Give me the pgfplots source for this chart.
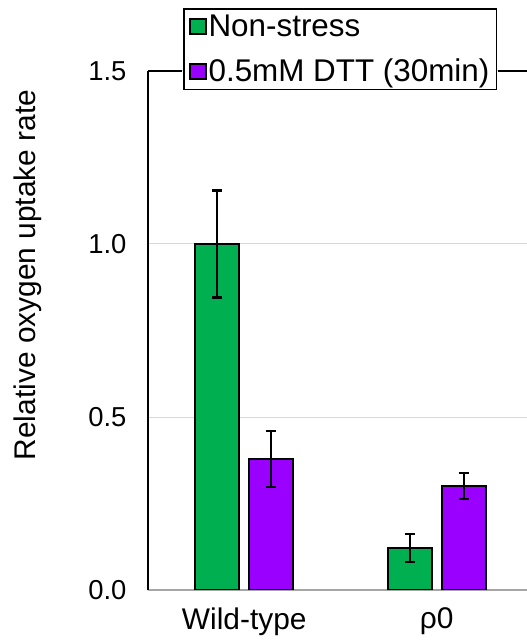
\documentclass[border=0pt]{standalone}
\usepackage{pgfplots}
\pgfplotsset{compat=1.18}
\usepackage{fontspec}
\setmainfont{Liberation Sans}
\definecolor{cgreen}{RGB}{0,176,80}
\definecolor{cpurple}{RGB}{153,0,255}
\begin{document}
\begin{tikzpicture}[x=1bp,y=1bp]
\useasboundingbox (-148bp,-52bp) rectangle (379bp,590bp);
\clip (-148bp,-52bp) rectangle (379bp,590bp);
\begin{axis}[
  at={(0,0)}, anchor=south west,
  scale only axis, width=379bp, height=519bp,
  xmin=-0.5, xmax=1.469, ymin=0, ymax=1.5,
  axis x line*=bottom, axis y line*=left,
  x axis line style={draw=gray!70, line width=1.2pt, -},
  y axis line style={draw=black, line width=1.8pt, -},
  xtick={0,1}, xticklabels={Wild-type, ρ0},
  xticklabel style={font=\fontsize{30}{34}\selectfont, yshift=-10bp},
  extra x ticks={-0.5,0.5,1.5}, extra x tick labels={},
  extra x tick style={major tick length=9bp, tick style={draw=gray!70, line width=1pt}, tick align=outside, tickpos=left},
  x tick style={draw=none},
  ytick={0,0.5,1.0,1.5},
  y tick style={draw=none},
  yticklabel style={font=\fontsize{27.5}{31}\selectfont, xshift=-18bp},
  yticklabels={0.0,0.5,1.0,1.5},
  ymajorgrids, grid style={draw=gray!30, line width=1pt},
  ylabel={Relative oxygen uptake rate},
  ylabel style={font=\fontsize{30}{34}\selectfont, at={(axis description cs:-0.317,0.607)}, anchor=center},
  ybar=10bp, bar width=44bp,
  legend style={at={(axis description cs:0.507,1.042)}, anchor=center, draw=black, line width=1.4pt, fill=white,
    font=\fontsize{31.5}{35}\selectfont, legend cell align=left, row sep=17bp, inner xsep=5bp, inner ysep=4bp,
    nodes={inner xsep=2bp}},
  legend image code/.code={\draw[#1, draw=black, line width=1.6pt] (0bp,-7.5bp) rectangle (16bp,7.5bp);},
  error bars/error bar style={line width=2.3pt, black},
  error bars/error mark options={rotate=90, mark size=5bp, line width=2.3pt, black},
]
\addplot[fill=cgreen, draw=black, line width=2pt, error bars/.cd, y dir=both, y explicit]
  coordinates {(0,1.00) +- (0,0.155) (1,0.121) +- (0,0.041)};
\addplot[fill=cpurple, draw=black, line width=2pt, error bars/.cd, y dir=both, y explicit]
  coordinates {(0,0.379) +- (0,0.081) (1,0.300) +- (0,0.038)};
\legend{Non-stress, 0.5mM DTT (30min)}
\end{axis}
\draw[black, line width=1.8pt] (0bp,519bp) -- (34bp,519bp) (350bp,519bp) -- (379bp,519bp);
\end{tikzpicture}
\end{document}
